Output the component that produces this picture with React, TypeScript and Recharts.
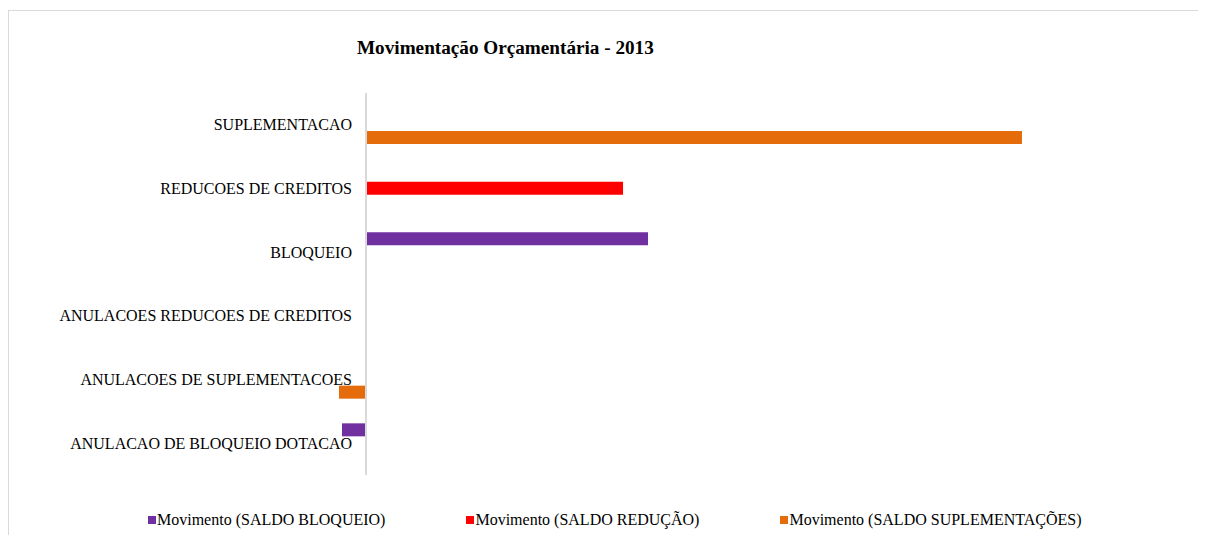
import React from 'react';
import { BarChart, Bar, XAxis, YAxis, ReferenceLine } from 'recharts';

const categories = [
  'SUPLEMENTACAO',
  'REDUCOES DE CREDITOS',
  'BLOQUEIO',
  'ANULACOES REDUCOES DE CREDITOS',
  'ANULACOES DE SUPLEMENTACOES',
  'ANULACAO DE BLOQUEIO DOTACAO',
];
const saldoBloqueio: (number | null)[] = [null, null, 2089, null, null, -178];
const saldoReducao: (number | null)[] = [null, 1904, null, null, null, null];
const saldoSuplementacoes: (number | null)[] = [4859, null, null, null, -200, null];

const seriesNames = [
  'Movimento (SALDO BLOQUEIO)',
  'Movimento (SALDO REDUÇÃO)',
  'Movimento (SALDO SUPLEMENTAÇÕES)',
];
const seriesColors = ['#7030A0', '#FF0000', '#E46C0A'];
const seriesKeys = ['bloqueio', 'reducao', 'suplementacoes'];
const title = 'Movimentação Orçamentária - 2013';

const data = categories.map((name, i) => ({
  name,
  bloqueio: saldoBloqueio[i],
  reducao: saldoReducao[i],
  suplementacoes: saldoSuplementacoes[i],
}));

const FONT = '"Liberation Serif", "Times New Roman", serif';

const CategoryTick = (props: any) => {
  const { x, y, payload } = props;
  return (
    <text
      x={x + 40}
      y={y}
      textAnchor="end"
      dominantBaseline="central"
      fontSize={16}
      fontFamily={FONT}
      fill="#000"
    >
      {payload.value}
    </text>
  );
};

export default function App() {
  return (
    <div
      style={{
        position: 'relative',
        top: 2,
        width: 1197,
        height: 526,
        borderTop: '1px solid #d9d9d9',
        borderLeft: '1px solid #d9d9d9',
        fontFamily: FONT,
        background: '#fff',
      }}
    >
      <div
        style={{
          position: 'absolute',
          left: 348,
          top: 26,
          fontSize: 19.2,
          fontWeight: 'bold',
          lineHeight: '22px',
          whiteSpace: 'nowrap',
          color: '#000',
        }}
      >
        {title}
      </div>
      <BarChart
        width={1197}
        height={526}
        data={data}
        layout="vertical"
        margin={{ top: 82, right: 30, bottom: 62, left: 0 }}
        barGap={0}
        barSize={13}
      >
        <XAxis type="number" domain={[-400, 6000]} hide />
        <YAxis
          type="category"
          dataKey="name"
          width={303}
          axisLine={false}
          tickLine={false}
          tickSize={0}
          tickMargin={0}
          interval={0}
          tick={<CategoryTick />}
        />
        {seriesKeys.map((k, i) => (
          <Bar
            key={k}
            dataKey={k}
            name={seriesNames[i]}
            fill={seriesColors[i]}
            isAnimationActive={false}
          />
        ))}
        <ReferenceLine x={0} stroke="#d9d9d9" strokeWidth={2} />
      </BarChart>
      <div
        style={{
          position: 'absolute',
          left: 139,
          top: 499,
          display: 'flex',
          gap: 81,
          fontSize: 16,
          lineHeight: '20px',
          whiteSpace: 'nowrap',
          color: '#000',
        }}
      >
        {seriesNames.map((n, i) => (
          <div key={n} style={{ display: 'flex', alignItems: 'center' }}>
            <span
              style={{
                display: 'inline-block',
                width: 8,
                height: 8,
                background: seriesColors[i],
                marginRight: 1,
              }}
            />
            <span>{n}</span>
          </div>
        ))}
      </div>
    </div>
  );
}
